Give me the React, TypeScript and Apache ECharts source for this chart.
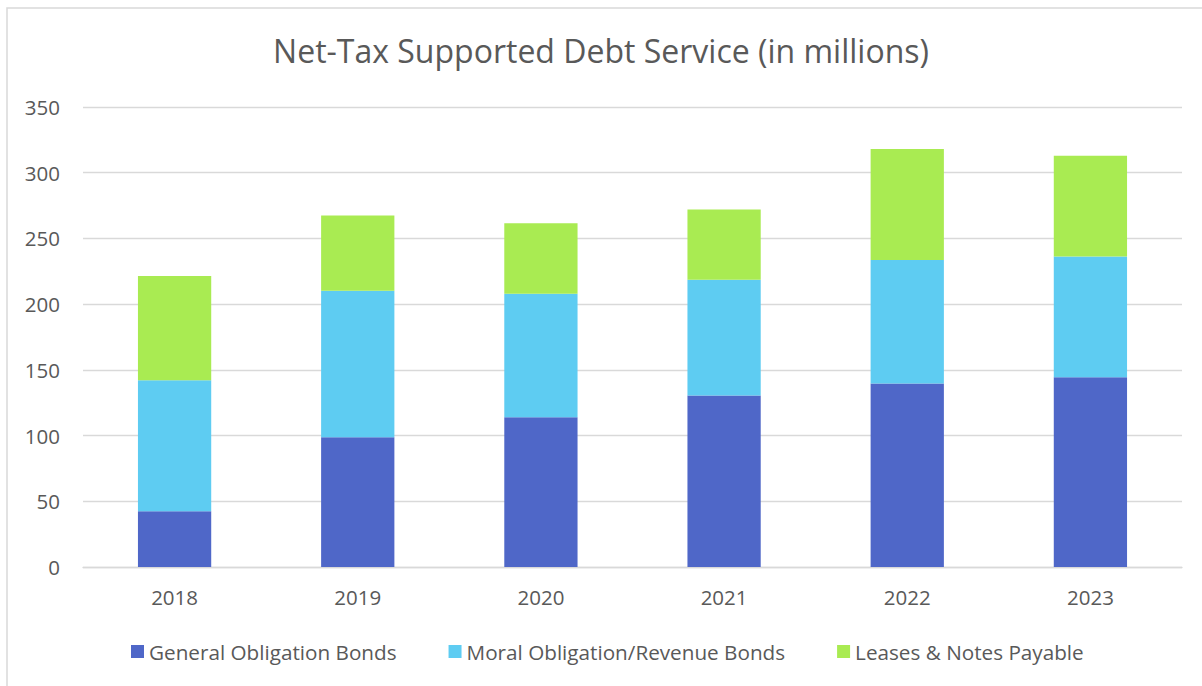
import React, { useEffect, useRef } from "react";
import * as echarts from "echarts";

const years = ["2018", "2019", "2020", "2021", "2022", "2023"];
const generalObligation = [42.4, 98.8, 114.0, 130.4, 139.7, 144.3];
const moralObligation = [99.6, 111.4, 94.0, 88.2, 93.8, 91.9];
const leasesNotes = [79.4, 57.3, 53.5, 53.5, 84.6, 76.8];
const seriesNames = [
  "General Obligation Bonds",
  "Moral Obligation/Revenue Bonds",
  "Leases & Notes Payable",
];
const colors = ["#4F67C8", "#5ECCF2", "#A9EB52"];

const FONT = "'Open Sans', sans-serif";
const GRAY = "#595959";

export default function App() {
  const ref = useRef<HTMLDivElement>(null);
  useEffect(() => {
    if (!ref.current) return;
    const chart = echarts.init(ref.current, null, { renderer: "svg" });
    const data = [generalObligation, moralObligation, leasesNotes];
    chart.setOption({
      animation: false,
      backgroundColor: "#ffffff",
      title: {
        text: "Net-Tax Supported Debt Service (in millions)",
        left: "center",
        top: 29,
        textStyle: {
          fontFamily: FONT,
          fontSize: 32,
          fontWeight: "normal",
          color: GRAY,
        },
      },
      graphic: [
        {
          type: "rect",
          shape: { x: 7, y: 8, width: 1300, height: 800 },
          style: { fill: "none", stroke: "#D9D9D9", lineWidth: 1.5 },
          silent: true,
        },
      ],
      legend: {
        left: 126,
        top: 636,
        itemWidth: 13,
        itemHeight: 13,
        itemGap: 52,
        icon: "rect",
        textStyle: { fontFamily: FONT, fontSize: 20.7, color: GRAY },
        data: seriesNames,
      },
      grid: { left: 83, right: 20, top: 107, bottom: 119, containLabel: false },
      xAxis: {
        type: "category",
        data: years,
        axisLine: { lineStyle: { color: "#D9D9D9", width: 1.3 } },
        axisTick: { show: false },
        axisLabel: {
          fontFamily: FONT,
          fontSize: 20.5,
          color: GRAY,
          margin: 19,
        },
      },
      yAxis: {
        type: "value",
        min: 0,
        max: 350,
        interval: 50,
        axisLine: { show: false },
        axisTick: { show: false },
        splitLine: { lineStyle: { color: "#D9D9D9", width: 1.3 } },
        axisLabel: {
          fontFamily: FONT,
          fontSize: 20.5,
          color: GRAY,
          margin: 23,
        },
      },
      series: seriesNames.map((name, i) => ({
        name,
        type: "bar",
        stack: "total",
        barWidth: "40%",
        data: data[i],
        itemStyle: { color: colors[i] },
      })),
    });
    return () => chart.dispose();
  }, []);
  return (
    <div
      ref={ref}
      style={{ position: "fixed", left: 0, top: 0, width: 1202, height: 686 }}
    />
  );
}
